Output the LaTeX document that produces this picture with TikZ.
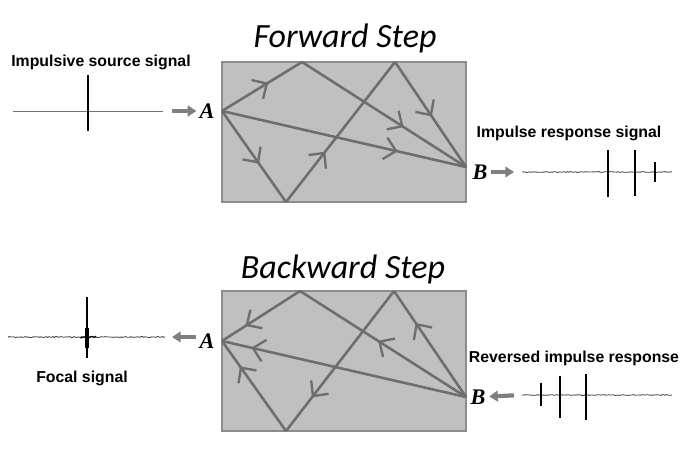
\documentclass[tikz,border=0pt]{standalone}
\usepackage{fontspec}
\setmainfont{Liberation Serif}
\setsansfont{Liberation Sans}
\newfontfamily\titlefont{Carlito}
\usetikzlibrary{arrows.meta,decorations.markings}
\definecolor{roomgray}{HTML}{C0C0C0}
\definecolor{wallgray}{HTML}{8C8C8C}
\definecolor{raygray}{HTML}{6E6E6E}
\definecolor{pointgray}{HTML}{7F7F7F}

\begin{document}
\begin{tikzpicture}[x=0.03cm,y=-0.03cm,
  room/.style={draw=wallgray,fill=roomgray,line width=1pt},
  ray/.style={draw=raygray,line width=2.2pt,line join=round,
    decoration={markings,mark=at position #1 with {\arrow{Straight Barb[length=3.4mm,width=6.6mm,line width=2pt]}}},
    postaction=decorate},
  pointer/.style={draw=pointgray,line width=3.6pt,-{Triangle[length=2.6mm,width=3.2mm]}},
  steptitle/.style={font=\titlefont\itshape\fontsize{29}{34}\selectfont,anchor=base},
  caption/.style={font=\sffamily\bfseries\fontsize{13.5}{16}\selectfont},
  pointlabel/.style={font=\bfseries\itshape\fontsize{19}{22}\selectfont,inner sep=1pt},
  trace/.style={draw=black!75,line width=0.7pt},
  spike/.style={draw=black,line width=1.4pt}]
  \useasboundingbox (0,0) rectangle (685,465);
  \pgfmathsetseed{7}

  % forward step
  \node[steptitle] (fwdtitle) at (345,47) {Forward Step};
  \draw[room] (222,62) rectangle (466,202);
  \coordinate (fA) at (222,111);
  \coordinate (fB) at (466,167);
  \coordinate (fT1) at (302,62);
  \coordinate (fT2) at (395,62);
  \coordinate (fD) at (286,202);
  \draw[ray=0.58] (fA) -- (fT1);
  \draw[ray=0.62] (fT1) -- (fB);
  \draw[ray=0.72] (fA) -- (fB);
  \draw[ray=0.58] (fA) -- (fD);
  \draw[ray=0.36] (fD) -- (fT2);
  \draw[ray=0.52] (fT2) -- (fB);

  \node[caption] (srccap) at (101,62) {Impulsive source signal};
  \coordinate (srcL) at (13,111);
  \coordinate (srcR) at (163,111);
  \draw[trace,draw=black!55] (srcL) -- (srcR);
  \draw[spike] (88,75) -- (88,131);
  \draw[line width=2.4pt] (88,102) -- (88,124);
  \node[pointlabel] (fAlab) at (207,111) {A};
  \coordinate (fAin) at (172,111);
  \draw[pointer,shorten >=1.5pt] (fAin) -- (fAlab);

  \node[caption] (respcap) at (569,133) {Impulse response signal};
  \node[pointlabel] (fBlab) at (480,172) {B};
  \coordinate (respL) at (522,172);
  \coordinate (respR) at (672,172);
  \draw[pointer,shorten <=2pt,shorten >=2.4mm] (fBlab) -- (respL);
  \draw[trace] plot[domain=522:672,samples=110] (\x,{172+0.4*rand});
  \draw[spike] (608,150) -- (608,197);
  \draw[spike] (635,150) -- (635,196);
  \draw[spike] (655,162) -- (655,182);
  \draw[line width=2.2pt] (608,166) -- (608,184) (635,164) -- (635,188) (655,166) -- (655,178);

  % backward step
  \node[steptitle] (bwdtitle) at (343,278) {Backward Step};
  \draw[room] (222,291) rectangle (466,431);
  \coordinate (bA) at (222,341);
  \coordinate (bB) at (466,397);
  \coordinate (bT1) at (300,291);
  \coordinate (bT2) at (394,291);
  \coordinate (bD) at (286,431);
  \draw[ray=0.7] (bT1) -- (bA);
  \draw[ray=0.53] (bB) -- (bT1);
  \draw[ray=0.88] (bB) -- (bA);
  \draw[ray=0.7] (bB) -- (bT2);
  \draw[ray=0.76] (bT2) -- (bD);
  \draw[ray=0.72] (bD) -- (bA);

  \node[caption] (focalcap) at (82,378) {Focal signal};
  \coordinate (focL) at (8,337);
  \coordinate (focR) at (165,337);
  \draw[trace] plot[domain=8:165,samples=120] (\x,{337+0.5*rand});
  \draw[spike] (87,297) -- (87,358);
  \draw[line width=2.6pt] (87,328) -- (87,348);
  \draw[line width=1pt] plot[domain=80:96,samples=10] (\x,{337+1*rand});
  \node[pointlabel] (bAlab) at (207,341) {A};
  \coordinate (bAout) at (172,337);
  \draw[pointer,shorten <=1.5pt] (bAlab.west |- bAout) -- (bAout);

  \node[caption] (revcap) at (574,358) {Reversed impulse response};
  \node[pointlabel] (bBlab) at (478,397) {B};
  \coordinate (revL) at (522,395);
  \coordinate (revR) at (672,395);
  \draw[pointer,shorten <=2.4mm,shorten >=2pt] (revL) -- (bBlab);
  \draw[trace] plot[domain=522:672,samples=110] (\x,{395+0.4*rand});
  \draw[spike] (541,383) -- (541,406);
  \draw[spike] (560,376) -- (560,418);
  \draw[spike] (586,374) -- (586,420);
  \draw[line width=2.2pt] (541,387) -- (541,403) (560,384) -- (560,408) (586,388) -- (586,402);
\end{tikzpicture}
\end{document}
